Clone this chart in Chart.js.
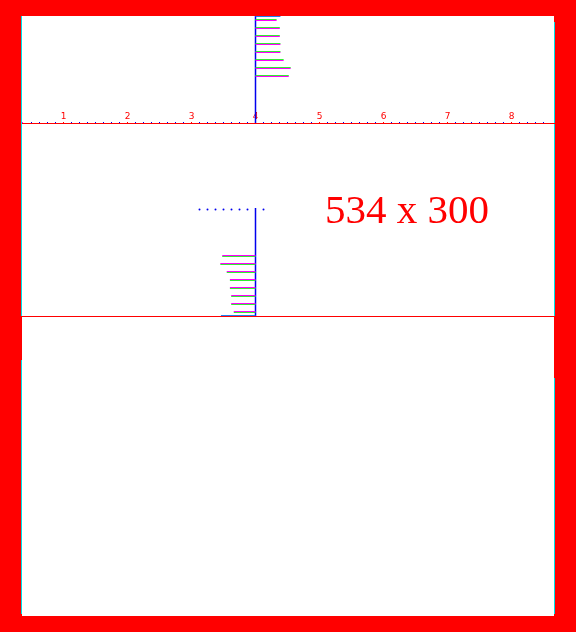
<!DOCTYPE html>
<html>
<head>
<meta charset="utf-8">
<script src="https://cdn.jsdelivr.net/npm/chart.js@4.4.0/dist/chart.umd.min.js"></script>
<style>
    html, body { margin: 0; padding: 0; }
    body { width: 576px; height: 632px; background: #ff0000; position: relative; overflow: hidden; }
    #panel { position: absolute; left: 22px; top: 16px; width: 532px; height: 600px; background: #ffffff; }
    #chart-box { position: absolute; left: 22px; top: 16px; width: 533px; height: 300px; }
    #base-line { position: absolute; left: 22px; top: 316px; width: 533px; height: 1px; background: #ff0000; }
    .edge { position: absolute; width: 1px; background: #00e0e8; }
    #size-note { position: absolute; left: 325px; top: 189px; font-family: 'Liberation Serif', serif; font-size: 41px; line-height: 41px; color: #ff0000; white-space: nowrap; }
</style>
</head>
<body>
<div id="panel"></div>
<div class="edge" style="left:21px; top:16px; height:300px;"></div>
<div class="edge" style="left:21px; top:360px; height:254px;"></div>
<div class="edge" style="left:554px; top:22px; height:294px;"></div>
<div class="edge" style="left:554px; top:378px; height:236px;"></div>
<div id="chart-box"><canvas id="bars-chart"></canvas></div>
<div id="base-line"></div>
<div id="size-note">534 x 300</div>
<script>
// Axis range and labels
const xMin = 0.3515625;
const xMax = 8.6796875;
const tickLabels = ['1', '2', '3', '4', '5', '6', '7', '8'];
const stemValue = 4;
const axisLevel = 193;

// Upper group (bars going right from the stem)
const topLevels = [296.5, 288.5, 280.5, 272.5, 264.5, 256.5, 248.5, 240.5];
const topValues = [4.33, 4.38, 4.38, 4.39, 4.39, 4.44, 4.55, 4.52];

// Lower group (bars going left from the stem)
const bottomLevels = [60.5, 52.5, 44.5, 36.5, 28.5, 20.5, 12.5, 4.5];
const bottomValues = [3.48, 3.45, 3.55, 3.60, 3.60, 3.62, 3.62, 3.66];

// Single blue bars at the top and bottom edges
const edgeLevels = [299.5, 0.5];
const edgeValues = [4.39, 3.46];

// Dotted row
const dotLevel = 106.5;
const dotValues = [3.125, 3.25, 3.375, 3.5, 3.625, 3.75, 3.875, 4.125];

// Stem pieces (from level, to level)
const stemFrom = [300, 108];
const stemTo = [193, 0];

const colors = {
    red: '#ff0000',
    green: '#33ee33',
    magenta: '#ff00ff',
    blue: '#0000ee',
    lightBlue: '#1e80f0'
};

function floatBars(levels, values, shift) {
    return levels.map((level, i) => ({
        y: level + shift,
        x: [Math.min(stemValue, values[i]), Math.max(stemValue, values[i])]
    }));
}

function barSet(data, color) {
    return {
        type: 'bar',
        data: data,
        backgroundColor: color,
        borderWidth: 0,
        barThickness: 1,
        inflateAmount: 0,
        grouped: false
    };
}

function stemSet(i) {
    return {
        type: 'line',
        data: [{ x: stemValue, y: stemFrom[i] }, { x: stemValue, y: stemTo[i] }],
        borderColor: colors.blue,
        borderWidth: 1.5,
        pointRadius: 0,
        fill: false
    };
}

const datasets = [
    barSet(floatBars(topLevels, topValues, 0), colors.green),
    barSet(floatBars(topLevels, topValues, -1), colors.magenta),
    barSet(floatBars(bottomLevels, bottomValues, 0), colors.magenta),
    barSet(floatBars(bottomLevels, bottomValues, -1), colors.green),
    barSet(floatBars(edgeLevels, edgeValues, 0), colors.lightBlue),
    stemSet(0),
    stemSet(1),
    {
        type: 'line',
        data: dotValues.map(v => ({ x: v, y: dotLevel })),
        showLine: false,
        pointRadius: 1,
        pointBorderWidth: 0,
        pointBackgroundColor: colors.blue
    }
];

new Chart(document.getElementById('bars-chart'), {
    type: 'bar',
    data: { datasets: datasets },
    options: {
        indexAxis: 'y',
        responsive: true,
        maintainAspectRatio: false,
        animation: false,
        layout: { padding: 0, autoPadding: false },
        plugins: {
            legend: { display: false },
            tooltip: { enabled: false }
        },
        scales: {
            x: {
                type: 'linear',
                min: xMin,
                max: xMax,
                position: { y: axisLevel },
                border: { color: colors.red, width: 1 },
                grid: {
                    display: true,
                    drawOnChartArea: false,
                    drawTicks: true,
                    tickLength: -2,
                    tickWidth: 1,
                    tickColor: function(ctx) {
                        const v = ctx.tick ? ctx.tick.value : 0;
                        if (Number.isInteger(v)) return colors.red;
                        if (Math.abs(v * 8 - Math.round(v * 8)) > 1e-6) return colors.magenta;
                        return colors.blue;
                    }
                },
                ticks: {
                    stepSize: 0.125,
                    autoSkip: false,
                    maxRotation: 0,
                    padding: -10,
                    color: colors.red,
                    font: { family: 'DejaVu Sans', size: 9 },
                    callback: function(value) {
                        return Number.isInteger(value) ? (tickLabels[value - 1] || '') : '';
                    }
                }
            },
            y: {
                type: 'linear',
                min: 0,
                max: 300,
                offset: false,
                display: false
            }
        }
    }
});
</script>
</body>
</html>
